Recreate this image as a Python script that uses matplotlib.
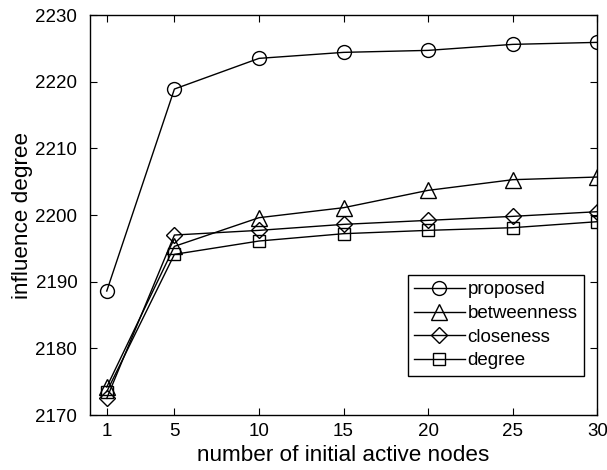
import matplotlib
matplotlib.use("Agg")
import matplotlib.pyplot as plt

plt.rcParams['font.family'] = ['Liberation Sans', 'DejaVu Sans']

# 初始活跃节点数
nodes = [1, 5, 10, 15, 20, 25, 30]

proposed = [2188.6, 2218.9, 2223.5, 2224.4, 2224.7, 2225.6, 2225.9]
betweenness = [2174.2, 2195.3, 2199.6, 2201.1, 2203.7, 2205.3, 2205.7]
closeness = [2172.5, 2197.0, 2197.7, 2198.6, 2199.2, 2199.8, 2200.5]
degree = [2173.5, 2194.1, 2196.1, 2197.2, 2197.7, 2198.1, 2199.0]

fig = plt.figure(figsize=(6.07, 4.70), dpi=100)
ax = fig.add_axes([0.148, 0.117, 0.836, 0.851])

style = dict(color='black', lw=1.0, markerfacecolor='none',
             markeredgecolor='black', markeredgewidth=1.0)
ax.plot(nodes, proposed, marker='o', ms=10, label='proposed', **style)
ax.plot(nodes, betweenness, marker='^', ms=11, label='betweenness', **style)
ax.plot(nodes, closeness, marker='D', ms=8, label='closeness', **style)
ax.plot(nodes, degree, marker='s', ms=8, label='degree', **style)

ax.set_xlim(0, 30)
ax.set_ylim(2170, 2230)
ax.set_xticks(nodes)
ax.set_yticks(range(2170, 2231, 10))
ax.tick_params(direction='in', top=True, right=True, length=5, width=0.8,
               labelsize=13.5)
ax.tick_params(axis='y', pad=9)
ax.tick_params(axis='x', pad=6)
for s in ax.spines.values():
    s.set_linewidth(1.0)

ax.set_xlabel('number of initial active nodes', fontsize=16.2, labelpad=3)
ax.set_ylabel('influence degree', fontsize=16.2, labelpad=2)

leg = ax.legend(loc='lower right', bbox_to_anchor=(0.974, 0.0975),
                fontsize=13.5, fancybox=False, framealpha=1, edgecolor='black',
                handlelength=2.7, handletextpad=0.15, borderpad=0.35,
                labelspacing=0.35, borderaxespad=0)
leg.get_frame().set_linewidth(1.0)

fig.savefig('out.png', dpi=100)
